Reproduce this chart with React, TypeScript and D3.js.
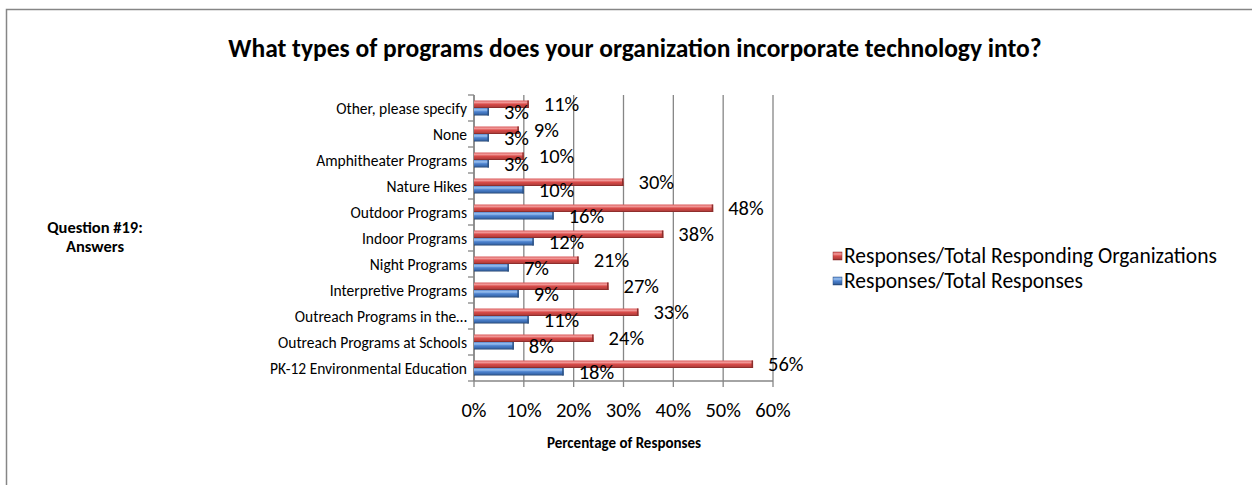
import React from "react";
import * as d3 from "d3";

const categories = [
  "Other, please specify",
  "None",
  "Amphitheater Programs",
  "Nature Hikes",
  "Outdoor Programs",
  "Indoor Programs",
  "Night Programs",
  "Interpretive Programs",
  "Outreach Programs in the…",
  "Outreach Programs at Schools",
  "PK-12 Environmental Education",
];
const orgPct = [11, 9, 10, 30, 48, 38, 21, 27, 33, 24, 56];
const respPct = [3, 3, 3, 10, 16, 12, 7, 9, 11, 8, 18];
const xTicks = [0, 10, 20, 30, 40, 50, 60];
const seriesNames = ["Responses/Total Responding Organizations", "Responses/Total Responses"];

const W = 1252;
const H = 485;
const FONT = "Calibri, Carlito, Lato, sans-serif";

export default function App() {
  const left = 474, right = 773, top = 95, bottom = 381;
  const x = d3.scaleLinear().domain([0, 60]).range([left, right]);
  const y = d3.scaleBand<string>().domain(categories).range([top, bottom]);
  const bw = y.bandwidth();
  const barH = 7.5;

  const series = [
    { vals: orgPct, grad: "gRed", cap: "#8c2e2c", off: -barH },
    { vals: respPct, grad: "gBlue", cap: "#2d5283", off: 0 },
  ];

  return (
    <div style={{ position: "absolute", left: 0, top: 0 }}>
      <svg width={W} height={H} style={{ display: "block", background: "#fff" }} fontFamily={FONT}>
        <defs>
          <linearGradient id="gRed" x1="0" y1="0" x2="0" y2="1">
            <stop offset="0" stopColor="#d9595a" />
            <stop offset="0.25" stopColor="#f29b9a" />
            <stop offset="0.5" stopColor="#d94b49" />
            <stop offset="0.8" stopColor="#b8403e" />
            <stop offset="1" stopColor="#7a2523" />
          </linearGradient>
          <linearGradient id="gBlue" x1="0" y1="0" x2="0" y2="1">
            <stop offset="0" stopColor="#5a8ad0" />
            <stop offset="0.25" stopColor="#9cc2f0" />
            <stop offset="0.5" stopColor="#4c82cf" />
            <stop offset="0.8" stopColor="#3a6aae" />
            <stop offset="1" stopColor="#22426e" />
          </linearGradient>
        </defs>
        <rect x={6.5} y={9.5} width={W} height={H} fill="none" stroke="#868686" strokeWidth={1.5} />

        <text x={635} y={57} textAnchor="middle" fontWeight="bold" fontSize={25.5} fill="#000">
          What types of programs does your organization incorporate technology into?
        </text>

        {/* gridlines */}
        {xTicks.map((t) => (
          <line key={"g" + t} x1={x(t)} x2={x(t)} y1={top} y2={bottom + 6} stroke="#868686" strokeWidth={1.3} />
        ))}
        {/* axes */}
        <line x1={left} x2={left} y1={top} y2={bottom} stroke="#868686" strokeWidth={1.5} />
        <line x1={left} x2={right} y1={bottom} y2={bottom} stroke="#868686" strokeWidth={1.5} />
        {d3.range(categories.length + 1).map((i) => (
          <line key={"t" + i} x1={left - 6} x2={left} y1={top + i * bw} y2={top + i * bw} stroke="#868686" strokeWidth={1.3} />
        ))}

        {/* category labels */}
        {categories.map((c) => (
          <text key={c} x={467} y={(y(c) as number) + bw / 2 + 5.5} textAnchor="end" fontSize={15.5} fill="#000">
            {c}
          </text>
        ))}

        {/* bars */}
        {series.map((s, si) =>
          categories.map((c, i) => {
            const cy = (y(c) as number) + bw / 2 + s.off;
            const x1 = x(s.vals[i]);
            return (
              <g key={si + c}>
                <rect x={left} y={cy} width={x1 - left} height={barH} fill={`url(#${s.grad})`} />
                <rect x={x1 - 1.5} y={cy} width={1.5} height={barH} fill={s.cap} />
              </g>
            );
          })
        )}

        {/* value labels */}
        {series.map((s, si) =>
          categories.map((c, i) => (
            <text key={"v" + si + c} x={x(s.vals[i]) + 15} y={(y(c) as number) + bw / 2 + s.off + barH / 2 + 7}
              fontSize={20.5} fill="#000">
              {s.vals[i]}%
            </text>
          ))
        )}

        {/* x tick labels */}
        {xTicks.map((t) => (
          <text key={"x" + t} x={x(t)} y={417} textAnchor="middle" fontSize={20.5} fill="#000">
            {t}%
          </text>
        ))}
        <text x={624} y={448} textAnchor="middle" fontWeight="bold" fontSize={15} fill="#000">
          Percentage of Responses
        </text>

        <text x={95} y={233} textAnchor="middle" fontWeight="bold" fontSize={16.5} fill="#000">
          <tspan x={95}>Question #19:</tspan>
          <tspan x={95} dy={19}>Answers</tspan>
        </text>

        {/* legend */}
        {seriesNames.map((n, i) => (
          <g key={n} transform={`translate(833,${252 + i * 25})`}>
            <rect x={0} y={0} width={9} height={8} fill={`url(#${series[i].grad})`} stroke={series[i].cap} strokeWidth={0.5} />
            <text x={11} y={11} fontSize={21.5} fill="#000">{n}</text>
          </g>
        ))}
      </svg>
    </div>
  );
}
